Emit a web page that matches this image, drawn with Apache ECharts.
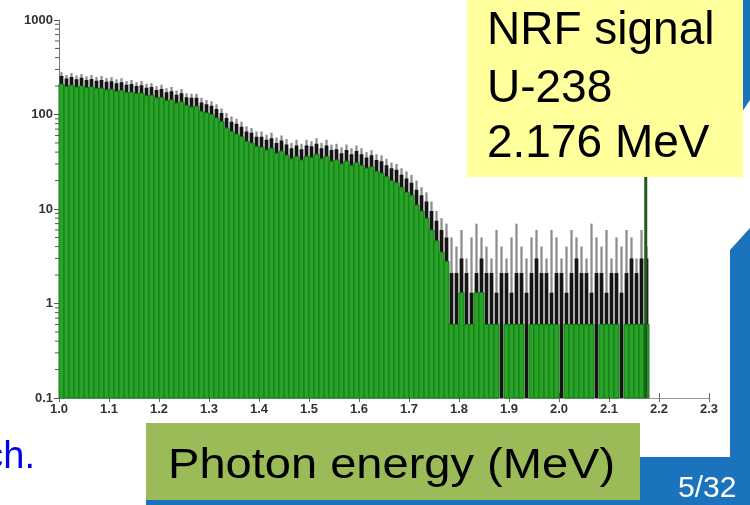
<!DOCTYPE html>
<html><head><meta charset="utf-8">
<script src="https://cdn.jsdelivr.net/npm/echarts@6/dist/echarts.min.js"></script>
<style>html,body{margin:0;padding:0;background:#fff}#c{width:750px;height:505px}</style>
</head><body><div id="c"></div>
<script>
// ---- data ----
const binStart = 1.00;
const binWidth = 0.01;
const greenCounts = [
 210,198,204,195,200,192,196,188,190,182,
 185,176,180,170,172,166,168,158,160,150,
 152,140,143,132,136,125,120,122,108,104,
 100,92,84,72,66,62,58,52,50,46,
 45,42,44,39,41,37,34,36,33,36,
 35,38,34,36,32,33,30,32,29,31,
 29,27,28,25,24,22,20,19,17,15,
 14,11,9.5,8,6,4.6,3.5,2.8,
 0.6,0.6,1.3,0.6,0.6,1.3,1.3,0.6,0.6,0.6,
 0,0.6,0.6,0.6,0.6,0,0.6,0.6,0.6,0.6,
 0.6,0.6,0,0.6,0.6,0.6,0.6,0.6,0.6,0,
 0.6,0.6,0.6,0.6,0,0.6,0.6,0.6,0.6,0.6
];
const blackCounts = [
 255,240,250,236,245,232,238,228,232,222,
 225,214,220,206,210,200,204,192,196,182,
 186,172,176,162,168,152,150,150,134,128,
 124,114,104,92,84,80,74,66,64,58,
 58,54,56,50,53,48,44,47,43,47,
 46,49,44,47,42,43,39,42,38,41,
 38,35,37,33,32,29,27,26,23,21,
 19,16,14,12,9.5,7.5,6,5,
 2.1,2.1,3,2.1,1.3,2.1,3,2.1,2.1,1.3,
 2.1,2.1,1.3,2.1,2.1,1.3,2.1,3,2.1,2.1,
 1.3,2.1,2.1,1.3,2.1,3,2.1,2.1,1.3,2.1,
 2.1,1.3,2.1,2.1,1.3,2.1,3,2.1,3,3
];
const grayCounts = [
 280,262,275,258,268,254,262,250,256,244,
 248,236,242,226,232,220,226,212,216,200,
 206,190,195,180,186,168,166,166,150,142,
 138,128,116,104,95,90,84,75,72,66,
 66,61,64,57,60,55,50,54,49,54,
 52,56,50,54,48,49,45,48,44,47,
 44,40,42,38,37,34,31,30,27,25,
 23,20,17,15,12,9.5,8,7,
 5,4,6,3,5,7,5,4,3,6,
 4,3,5,7,4,3,5,6,4,3,
 6,5,3,4,6,5,4,3,7,5,
 4,6,3,5,4,6,5,3,6,4
];
const peakEnergy = [2.1735];
const peakCounts = [80];
const xMin = 1.0, xMax = 2.3, xStep = 0.1;
const yMin = 0.1, yMax = 1000;
const yMinorTicks = [
 0.2,0.3,0.4,0.5,0.6,0.7,0.8,0.9,
 2,3,4,5,6,7,8,9,
 20,30,40,50,60,70,80,90,
 200,300,400,500,600,700,800,900
];
const yLabel = ['NRF signal', 'U-238', '2.176 MeV'];
const xTitle = 'Photon energy (MeV)';

// ---- build ----
function binData(arr){
  const out = [];
  arr.forEach((v,i)=>{ if(v>0) out.push([binStart+i*binWidth, binStart+(i+1)*binWidth, v]); });
  return out;
}
function rectRender(fill, stroke, frac){
  return function(params, api){
    const x0 = api.value(0), x1 = api.value(1), v = api.value(2);
    if(!(v>0)) return null;
    const pTop = api.coord([x0, v]);
    const pBot = api.coord([x1, yMin]);
    const w = pBot[0]-pTop[0];
    const nw = w*frac;
    return {type:'rect', shape:{x:pTop[0]+(w-nw)/2, y:pTop[1], width:nw, height:pBot[1]-pTop[1]},
      style:{fill:fill, stroke:stroke||null, lineWidth: stroke?1:0}};
  };
}
const chart = echarts.init(document.getElementById('c'), null, {renderer:'canvas'});
const axisFont = {fontFamily:'Liberation Sans, Arial, sans-serif', fontWeight:'bold', fontSize:13, color:'#333'};
chart.setOption({
  animation:false,
  backgroundColor:'#fff',
  grid:{left:59, right:41, top:20, bottom:107},
  xAxis:[{
    type:'value', min:xMin, max:xMax, interval:xStep, position:'bottom',
    axisLine:{lineStyle:{color:'#999', width:1}},
    axisTick:{length:4, lineStyle:{color:'#666'}},
    splitLine:{show:false},
    axisLabel:Object.assign({margin:5, formatter:v=>v.toFixed(1)}, axisFont)
  },{
    type:'value', min:xMin, max:xMax, interval:xStep, position:'bottom',
    axisLine:{show:false},
    axisTick:{inside:true, length:5, lineStyle:{color:'#666'}},
    splitLine:{show:false}, axisLabel:{show:false}
  }],
  yAxis:{
    type:'log', logBase:10, min:yMin, max:yMax,
    axisLine:{show:true, lineStyle:{color:'#777'}},
    axisTick:{show:true, length:5, lineStyle:{color:'#555'}},
    splitLine:{show:false},
    axisLabel:Object.assign({margin:6, formatter:v=> v<1 ? v.toFixed(1) : String(Math.round(v))}, axisFont)
  },
  series:[
    {type:'custom', name:'gray', renderItem:rectRender('#8c8c8c', null, 0.45), data:binData(grayCounts), encode:{x:[0,1], y:2}, z:1},
    {type:'custom', name:'black', renderItem:rectRender('#141414', null, 0.75), data:binData(blackCounts), encode:{x:[0,1], y:2}, z:2},
    {type:'custom', name:'green', renderItem:rectRender('#27a327', '#187a18', 1), data:binData(greenCounts), encode:{x:[0,1], y:2}, z:3},
    {type:'custom', name:'peak', renderItem:function(params, api){
        const e = api.value(0), v = api.value(1);
        const pt = api.coord([e, v]); const pb = api.coord([e, yMin]);
        return {type:'rect', shape:{x:pt[0]-1.5, y:pt[1], width:3, height:pb[1]-pt[1]}, style:{fill:'#1d5a1d'}};
      }, data:peakEnergy.map((e,i)=>[e, peakCounts[i]]), encode:{x:0, y:1}, z:4},
    {type:'custom', name:'minor', clip:false, renderItem:function(params, api){
        const p = api.coord([xMin, api.value(0)]);
        return {type:'line', shape:{x1:p[0]-4, y1:p[1], x2:p[0], y2:p[1]}, style:{stroke:'#555', lineWidth:1}};
      }, data:yMinorTicks.map(v=>[v]), encode:{y:0}, z:5}
  ],
  graphic:[
    {type:'polygon', shape:{points:[[742,0],[750,0],[750,100],[742,112]]}, style:{fill:'#1b72bd'}, z:100},
    {type:'polygon', shape:{points:[[730,250],[750,228],[750,505],[640,505],[640,457],[730,457]]}, style:{fill:'#1b72bd'}, z:100},
    {type:'rect', shape:{x:146, y:495, width:500, height:10}, style:{fill:'#1b72bd'}, z:100},
    {type:'rect', shape:{x:467, y:0, width:276, height:177}, style:{fill:'#ffff9c'}, z:101},
    {type:'text', x:487, y:31, style:{text:yLabel[0], font:'46px "Liberation Sans", Arial, sans-serif', fill:'#000', verticalAlign:'middle'}, z:102},
    {type:'text', x:487, y:89, style:{text:yLabel[1], font:'46px "Liberation Sans", Arial, sans-serif', fill:'#000', verticalAlign:'middle'}, z:102},
    {type:'text', x:487, y:144, style:{text:yLabel[2], font:'46px "Liberation Sans", Arial, sans-serif', fill:'#000', verticalAlign:'middle'}, z:102},
    {type:'rect', shape:{x:146, y:423, width:494, height:77}, style:{fill:'#9bbb59'}, z:101},
    {type:'text', x:168, y:466, scaleX:1.12, style:{text:xTitle, font:'42px "Liberation Sans", Arial, sans-serif', fill:'#000', verticalAlign:'middle'}, z:102},
    {type:'text', x:678, y:489, style:{text:'5/32', font:'30px "Liberation Sans", Arial, sans-serif', fill:'#fff', verticalAlign:'middle'}, z:102},
    {type:'text', x:35, y:458, style:{text:'ch.', font:'38px "Liberation Sans", Arial, sans-serif', fill:'#0000ee', align:'right', verticalAlign:'middle'}, z:102}
  ]
});
</script>
</body></html>
